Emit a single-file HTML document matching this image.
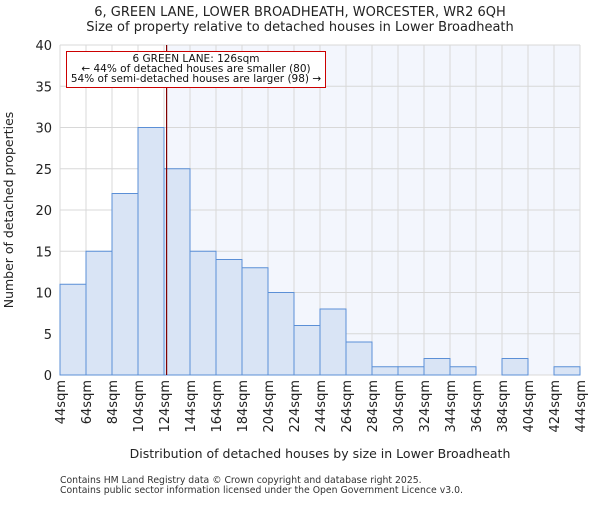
<!DOCTYPE html>
<html><head><meta charset="utf-8"><style>body{margin:0;background:#fff}svg{font-family:"DejaVu Sans","Liberation Sans",sans-serif}</style></head>
<body>
<svg id="c" width="600" height="500" xmlns="http://www.w3.org/2000/svg"></svg>
<script>
const binStarts=[44,64,84,104,124,144,164,184,204,224,244,264,284,304,324,344,364,384,404,424];
const counts=[11,15,22,30,25,15,14,13,10,6,8,4,1,1,2,1,0,2,0,1];
const yTicks=[0,5,10,15,20,25,30,35,40];
const propertySize=126;
const X0=60,X1=580,Y0=375,Y1=45,xmin=44,xmax=444,ymax=40;
const sx=v=>X0+(v-xmin)/(xmax-xmin)*(X1-X0);
const sy=v=>Y0-v/ymax*(Y0-Y1);
const svg=document.getElementById('c');const NS='http://www.w3.org/2000/svg';
function mk(t,a,p){const e=document.createElementNS(NS,t);for(const k in a)e.setAttribute(k,a[k]);(p||svg).appendChild(e);return e;}
let r=mk('rect',{x:sx(propertySize),y:Y1,width:X1-sx(propertySize),height:Y0-Y1,fill:'#f3f6fd'});


const edges=binStarts.concat([xmax]);
edges.forEach(v=>{let l=mk('line',{x1:sx(v),x2:sx(v),y1:Y1,y2:Y0,stroke:'#d8d8d8','stroke-width':1});

});
yTicks.forEach(v=>{let l=mk('line',{x1:X0,x2:X1,y1:sy(v),y2:sy(v),stroke:'#d8d8d8','stroke-width':1});


let t=mk('text',{x:X0-8,y:sy(v)+5,'text-anchor':'end','font-size':13,fill:'#222'});t.textContent=v;

});
binStarts.forEach((b,i)=>{if(counts[i]<=0)return;let e=mk('rect',{x:sx(b),y:sy(counts[i]),width:sx(b+20)-sx(b),height:Y0-sy(counts[i]),fill:'#d9e4f5',stroke:'#5b8fd6','stroke-width':1});

});
edges.forEach(v=>{let t=mk('text',{transform:`translate(${sx(v)+5},380) rotate(-90)`,'text-anchor':'end','font-size':13,fill:'#222'});t.textContent=v+'sqm';

});
let pl=mk('line',{x1:sx(propertySize),x2:sx(propertySize),y1:Y1,y2:Y0,stroke:'#800000','stroke-width':1.2});


</script>
<svg width="600" height="500" style="position:absolute;left:0;top:0">
<g>
<rect x="66.5" y="51.5" width="259" height="36" fill="#fff" stroke="#cc0000" stroke-width="1"/>
<text x="196" y="62" text-anchor="middle" font-size="10.5" fill="#111">6 GREEN LANE: 126sqm</text>
<text x="196" y="72" text-anchor="middle" font-size="10.5" fill="#111">← 44% of detached houses are smaller (80)</text>
<text x="196" y="82" text-anchor="middle" font-size="10.5" fill="#111">54% of semi-detached houses are larger (98) →</text>
</g>
<text x="300" y="16" text-anchor="middle" font-size="13" fill="#222">6, GREEN LANE, LOWER BROADHEATH, WORCESTER, WR2 6QH</text>
<text x="300" y="31" text-anchor="middle" font-size="13" fill="#222">Size of property relative to detached houses in Lower Broadheath</text>
<text transform="translate(13,210) rotate(-90)" text-anchor="middle" font-size="12.5" fill="#222">Number of detached properties</text>
<text x="320" y="458" text-anchor="middle" font-size="12.5" fill="#222">Distribution of detached houses by size in Lower Broadheath</text>
<text x="60" y="483" font-size="9.3" fill="#333">Contains HM Land Registry data © Crown copyright and database right 2025.</text>
<text x="60" y="493" font-size="9.3" fill="#333">Contains public sector information licensed under the Open Government Licence v3.0.</text>
</svg>
</body></html>
